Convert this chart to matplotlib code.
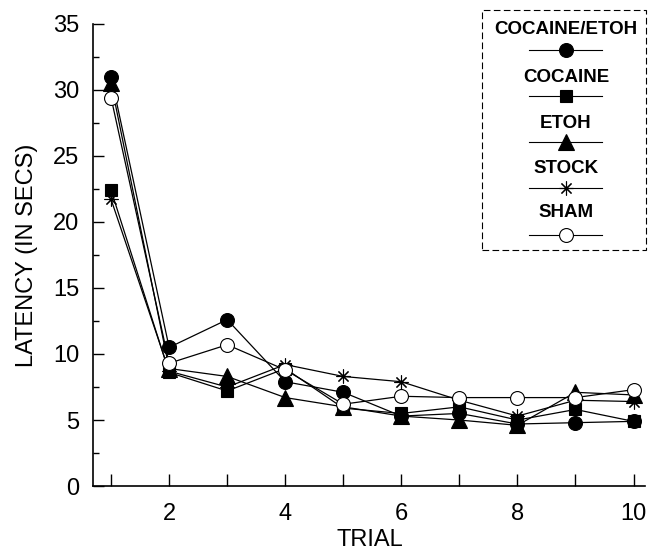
import matplotlib
matplotlib.use('Agg')
import matplotlib.pyplot as plt
from matplotlib.lines import Line2D
from matplotlib.ticker import MultipleLocator, FixedLocator

plt.rcParams['font.family'] = ['Liberation Sans', 'DejaVu Sans']

trials = [1, 2, 3, 4, 5, 6, 7, 8, 9, 10]

cocaine_etoh = [31.0, 10.5, 12.6, 7.9, 7.1, 5.3, 5.5, 4.7, 4.8, 4.9]
cocaine = [22.4, 8.6, 7.2, 8.9, 5.9, 5.5, 6.0, 5.0, 5.8, 4.9]
etoh = [30.5, 8.9, 8.3, 6.7, 6.0, 5.3, 5.0, 4.6, 7.1, 6.9]
stock = [21.7, 8.7, 7.5, 9.2, 8.3, 7.9, 6.5, 5.3, 6.5, 6.4]
sham = [29.4, 9.3, 10.7, 8.8, 6.2, 6.8, 6.7, 6.7, 6.7, 7.3]

series = [
    ('COCAINE/ETOH', cocaine_etoh, 'o', 10, 'black'),
    ('COCAINE', cocaine, 's', 9, 'black'),
    ('ETOH', etoh, '^', 11, 'black'),
    ('STOCK', stock, (8, 2, 0), 10, 'black'),
    ('SHAM', sham, 'o', 10, 'white'),
]

fig = plt.figure(figsize=(6.51, 5.53), dpi=100)
ax = fig.add_axes([0.143, 0.121, 0.848, 0.836])

for name, vals, mk, ms, fc in series:
    ax.plot(trials, vals, color='black', linewidth=0.9, marker=mk, markersize=ms,
            markerfacecolor=fc, markeredgecolor='black', markeredgewidth=0.8)

ax.set_xlim(0.69, 10.2)
ax.set_ylim(0, 35)
ax.yaxis.set_major_locator(MultipleLocator(5))
ax.yaxis.set_minor_locator(MultipleLocator(2.5))
ax.xaxis.set_major_locator(FixedLocator([2, 4, 6, 8, 10]))
ax.xaxis.set_minor_locator(FixedLocator([1, 3, 5, 7, 9]))
ax.tick_params(axis='both', which='both', direction='in', labelsize=17, width=1)
ax.tick_params(axis='y', which='major', length=8, pad=10)
ax.tick_params(axis='y', which='minor', length=4)
ax.tick_params(axis='x', which='both', length=9, pad=12)
ax.spines['top'].set_visible(False)
ax.spines['right'].set_visible(False)
ax.spines['left'].set_linewidth(1.2)
ax.spines['bottom'].set_linewidth(1.2)

ax.set_xlabel('TRIAL', fontsize=17)
ax.set_ylabel('LATENCY (IN SECS)', fontsize=17)
ax.xaxis.set_label_coords(0.502, -0.093)
ax.yaxis.set_label_coords(-0.10, 0.5)

# legend box: label above, line with marker below
px = lambda x, y: (x / 651, 1 - y / 553)
box = plt.Rectangle(px(482, 250), 164 / 651, 240 / 553, transform=fig.transFigure,
                    fill=False, edgecolor='black', linewidth=0.8, linestyle=(0, (6, 3)))
fig.add_artist(box)
label_y = [30, 77, 123, 168, 213]
line_y = [50, 96, 142, 188, 235]
for (name, vals, mk, ms, fc), ly, my in zip(series, label_y, line_y):
    fig.text(*px(566, ly), name, ha='center', va='center', fontsize=13.5,
             fontweight='bold')
    x0, y0 = px(529, my)
    x1, _ = px(602, my)
    fig.add_artist(Line2D([x0, x1], [y0, y0], transform=fig.transFigure,
                          color='black', linewidth=0.8))
    fig.add_artist(Line2D([(x0 + x1) / 2], [y0], transform=fig.transFigure,
                          marker=mk, markersize=ms, markerfacecolor=fc,
                          markeredgecolor='black', markeredgewidth=0.8, linestyle='none'))

fig.savefig('out.png', dpi=100)
